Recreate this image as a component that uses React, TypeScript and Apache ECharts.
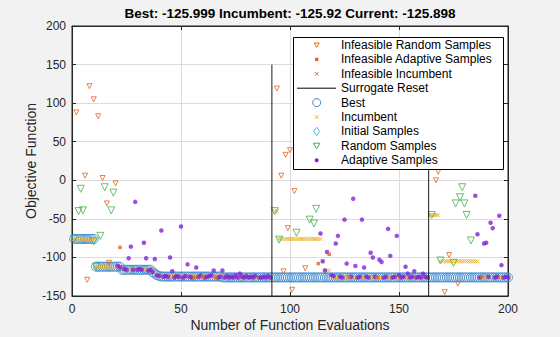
import React, { useEffect, useRef } from "react";
import * as echarts from "echarts";

const titleText = "Best: -125.999 Incumbent: -125.92 Current: -125.898";
const xTicks = { min: 0, max: 200, interval: 50 };
const yTicks = { min: -150, max: 200, interval: 50 };

// [fromEval, toEval, value]
const bestRuns: number[][] = [
  [1, 10, -76], [11, 22, -112], [23, 36, -116], [37, 37, -119], [38, 38, -121],
  [39, 39, -123], [40, 40, -124], [41, 68, -124.8], [69, 200, -125.9],
];
const incumbentRuns: number[][] = [
  [1, 10, -76], [11, 22, -112], [23, 36, -116], [37, 37, -119], [38, 38, -121],
  [39, 39, -123], [40, 40, -124], [41, 68, -124.8], [69, 91, -125.9],
  [93, 94, -40], [95, 114, -76], [115, 115, -105], [116, 118, -117], [119, 119, -123],
  [120, 163, -125.5], [164, 168, -45], [169, 186, -105], [187, 200, -125.9],
];

const infeasibleRandom: number[][] = [
  [2, 88], [6, 6], [7, -129], [8, 122], [10, 105], [12, 83], [14, 3], [16, -30], [17, -107], [20, -4],
  [94, 119], [96, 6], [97, -118], [98, 33], [99, -62], [100, 39], [101, -142], [102, -14], [107, -114],
  [167, 0], [168, 11], [171, -145], [173, -97], [177, -134],
];
const infeasibleAdaptive: number[][] = [
  [22, -87], [56, -126], [60, -125], [66, -126], [113, -108], [118, -96], [127, -125], [140, -126], [188, -125],
];
const infeasibleIncumbent: number[][] = [];
const resetEvals: number[] = [91.7, 163.6];
const initialSamples: number[][] = [];
const randomSamples: number[][] = [
  [1, -76], [3, -40], [4, -11], [5, -39], [10, -79], [11, -112], [13, -72], [15, -9], [18, -39], [19, -16],
  [93, -40], [95, -77], [103, -68], [109, -51], [111, -56], [112, -37],
  [165, -45], [169, -104], [175, -107], [176, -30], [178, -22], [179, -9], [180, -30], [181, -45], [183, -78],
];
const adaptiveSamples: number[][] = [
  [21, -111], [26, -101], [27, -86], [29, -28], [33, -81], [34, -101], [38, -102], [41, -65], [45, -100],
  [46, -118], [50, -60], [53, -109], [57, -113], [65, -117], [69, -117], [77, -121],
  [22, -113], [24, -115], [25, -116], [28, -116], [30, -116], [31, -115], [32, -116], [35, -117], [36, -116],
  [37, -119], [39, -123], [40, -124], [42, -125], [43, -124], [44, -125], [47, -126], [48, -124], [49, -125],
  [51, -126], [52, -124], [54, -125], [55, -126], [58, -125], [59, -123], [61, -126], [62, -125], [63, -124],
  [64, -123], [67, -126], [68, -125], [70, -126], [71, -124], [72, -126], [73, -125], [74, -126], [75, -123],
  [76, -126], [78, -125], [79, -126], [80, -124], [81, -126], [82, -125], [83, -126], [84, -124], [86, -126],
  [87, -126], [88, -125], [89, -126], [90, -124], [91, -126],
  [114, -69], [115, -105], [116, -117], [117, -93], [119, -123], [121, -82], [122, -72], [125, -51],
  [126, -108], [129, -24], [130, -111], [133, -51], [134, -113], [137, -94], [138, -100], [141, -103],
  [142, -106], [145, -63], [146, -98], [149, -72], [150, -123], [153, -112], [154, -121], [157, -118], [161, -121],
  [120, -124], [123, -125], [124, -126], [128, -125], [131, -126], [132, -125], [135, -125], [136, -126],
  [139, -125], [143, -126], [144, -125], [147, -126], [148, -125], [151, -126], [152, -125], [155, -126],
  [156, -125], [158, -126], [159, -125], [160, -126], [162, -125], [163, -126],
  [185, -20], [186, -70], [189, -82], [190, -81], [192, -55], [193, -62], [196, -46], [197, -110],
  [187, -126], [191, -125], [194, -126], [195, -125], [198, -126], [199, -125], [200, -126],
];

const legendNames = [
  "Infeasible Random Samples", "Infeasible Adaptive Samples", "Infeasible Incumbent", "Surrogate Reset",
  "Best", "Incumbent", "Initial Samples", "Random Samples", "Adaptive Samples",
];

const C = {
  infeasible: "#E8611E",
  best: "#3586D0",
  incumbent: "#EDB120",
  initial: "#4DBEEE",
  random: "#45B045",
  adaptive: "#8323D6",
  axis: "#262626",
};

const FONT = "'Liberation Sans', Arial, Helvetica, sans-serif";
const X_PATH = "path://M0,0L10,10M0,10L10,0";

function expandRuns(runs: number[][]): number[][] {
  const out: number[][] = [];
  runs.forEach(([a, b, v]) => {
    for (let i = a; i <= b; i++) out.push([i, v]);
  });
  return out;
}

function scatter(name: string, data: number[][], symbol: string, size: number, color: string, filled: boolean, rotate = 0, z = 2) {
  return {
    type: "scatter",
    name,
    data,
    symbol,
    symbolSize: size,
    symbolRotate: rotate,
    silent: true,
    z,
    itemStyle: filled
      ? { color }
      : { color: "rgba(0,0,0,0)", borderColor: color, borderWidth: 1 },
  };
}

function legendGraphic() {
  const left = 293, top = 37, w = 210, h = 132;
  const cx = 316.7, tx = 341, y0 = 45, step = 14.4;
  const els: any[] = [
    { type: "rect", shape: { x: left + 0.5, y: top + 0.5, width: w, height: h }, style: { fill: "#fff", stroke: "#000", lineWidth: 1 }, z: 100 },
  ];
  const tri = (cy: number, s: number, color: string) => ({
    type: "polygon", z: 101,
    shape: { points: [[cx - s / 2, cy - s * 0.4], [cx + s / 2, cy - s * 0.4], [cx, cy + s * 0.45]] },
    style: { fill: "none", stroke: color, lineWidth: 1 },
  });
  const cross = (cy: number, s: number, color: string) => ({
    type: "group", z: 101,
    children: [
      { type: "line", shape: { x1: cx - s / 2, y1: cy - s / 2, x2: cx + s / 2, y2: cy + s / 2 }, style: { stroke: color, lineWidth: 1 }, z: 101 },
      { type: "line", shape: { x1: cx - s / 2, y1: cy + s / 2, x2: cx + s / 2, y2: cy - s / 2 }, style: { stroke: color, lineWidth: 1 }, z: 101 },
    ],
  });
  legendNames.forEach((name, i) => {
    const cy = y0 + i * step;
    let icon: any;
    switch (i) {
      case 0: icon = tri(cy, 5, C.infeasible); break;
      case 1: icon = { type: "rect", z: 101, shape: { x: cx - 1.7, y: cy - 1.7, width: 3.4, height: 3.4 }, style: { fill: C.infeasible } }; break;
      case 2: icon = cross(cy, 3.5, C.infeasible); break;
      case 3: icon = { type: "line", z: 101, shape: { x1: 297, y1: cy, x2: 336, y2: cy }, style: { stroke: "#000", lineWidth: 1 } }; break;
      case 4: icon = { type: "circle", z: 101, shape: { cx, cy, r: 4 }, style: { fill: "none", stroke: C.best, lineWidth: 1 } }; break;
      case 5: icon = cross(cy, 3.5, C.incumbent); break;
      case 6: icon = { type: "polygon", z: 101, shape: { points: [[cx, cy - 4.2], [cx + 3, cy], [cx, cy + 4.2], [cx - 3, cy]] }, style: { fill: "none", stroke: C.initial, lineWidth: 1 } }; break;
      case 7: icon = tri(cy, 6.5, C.random); break;
      default: icon = { type: "circle", z: 101, shape: { cx, cy, r: 2 }, style: { fill: C.adaptive } };
    }
    els.push(icon);
    els.push({
      type: "text", x: tx, y: cy, z: 101,
      style: { text: name, fill: "#000", font: `12px ${FONT}`, textVerticalAlign: "middle", verticalAlign: "middle" },
    });
  });
  return els;
}

export default function App() {
  const ref = useRef<HTMLDivElement>(null);
  useEffect(() => {
    if (!ref.current) return;
    const chart = echarts.init(ref.current, null, { renderer: "svg" });
    const axisCommon = {
      axisLine: { show: true, onZero: false, lineStyle: { color: C.axis, width: 1 } },
      axisTick: { show: true, inside: true, length: 4, lineStyle: { color: C.axis } },
    };
    chart.setOption({
      animation: false,
      backgroundColor: "#f2f2f2",
      textStyle: { fontFamily: FONT },
      grid: { left: 72, right: 52, top: 26, bottom: 39, show: true, backgroundColor: "#fff", borderColor: C.axis, borderWidth: 1 },
      xAxis: [
        {
          type: "value", ...xTicks, ...axisCommon,
          axisLabel: { fontSize: 12, color: C.axis, margin: 7, fontFamily: FONT },
          splitLine: { show: true, lineStyle: { color: "#dcdcdc" } },
          name: "Number of Function Evaluations", nameLocation: "middle", nameGap: 22, nameMoveOverlap: false,
          nameTextStyle: { fontSize: 14, color: C.axis, fontFamily: FONT },
        },
        { type: "value", position: "top", ...xTicks, ...axisCommon, axisLabel: { show: false }, splitLine: { show: false } },
      ],
      yAxis: [
        {
          type: "value", ...yTicks, ...axisCommon,
          axisLabel: { fontSize: 12, color: C.axis, margin: 6, fontFamily: FONT },
          splitLine: { show: true, lineStyle: { color: "#dcdcdc" } },
          name: "Objective Function", nameLocation: "middle", nameGap: 34, nameMoveOverlap: false,
          nameTextStyle: { fontSize: 14, color: C.axis, fontFamily: FONT },
        },
        { type: "value", position: "right", ...yTicks, ...axisCommon, axisLabel: { show: false }, splitLine: { show: false } },
      ],
      graphic: [
        {
          type: "text", x: 290, y: 13, z: 100,
          style: { text: titleText, fill: "#000", font: `bold 13.5px ${FONT}`, textAlign: "center", align: "center", textVerticalAlign: "middle", verticalAlign: "middle" },
        },
        ...legendGraphic(),
      ],
      series: [
        scatter("Best", expandRuns(bestRuns), "circle", 9, C.best, false, 0, 2),
        scatter("Incumbent", expandRuns(incumbentRuns), X_PATH, 4, C.incumbent, false, 0, 3),
        scatter("Initial Samples", initialSamples, "diamond", 7, C.initial, false, 0, 3),
        scatter("Random Samples", randomSamples, "triangle", 7, C.random, false, 180, 4),
        scatter("Adaptive Samples", adaptiveSamples, "circle", 4.5, C.adaptive, true, 0, 5),
        scatter("Infeasible Random Samples", infeasibleRandom, "triangle", 5, C.infeasible, false, 180, 6),
        scatter("Infeasible Adaptive Samples", infeasibleAdaptive, "rect", 3.5, C.infeasible, true, 0, 6),
        scatter("Infeasible Incumbent", infeasibleIncumbent, X_PATH, 4, C.infeasible, false, 0, 6),
        ...resetEvals.map((x) => ({
          type: "line", name: "Surrogate Reset", data: [[x, -150], [x, 150]], symbol: "none", silent: true, z: 7,
          lineStyle: { color: "#1a1a1a", width: 1 },
        })),
      ],
    });
    return () => chart.dispose();
  }, []);
  return <div ref={ref} style={{ position: "fixed", left: 0, top: 0, width: 560, height: 337 }} />;
}
